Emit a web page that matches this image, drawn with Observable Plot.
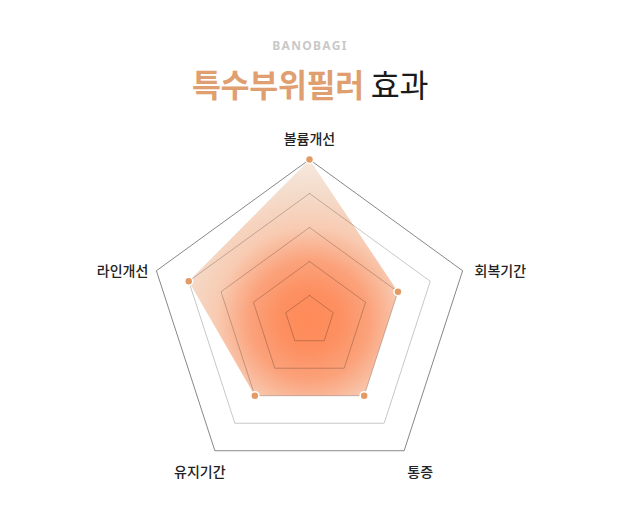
<!DOCTYPE html>
<html>
<head>
<meta charset="utf-8">
<script src="https://cdn.jsdelivr.net/npm/d3@7"></script>
<script src="https://cdn.jsdelivr.net/npm/@observablehq/plot@0.6"></script>
<style>
  html, body { margin: 0; padding: 0; background: #fff; }
  body { width: 620px; font-family: "Noto Sans CJK KR", "Noto Sans", sans-serif; }
  .brand { height: 16px; line-height: 16px; margin-top: 38px; text-align: center; font-size: 12px; font-weight: 700; letter-spacing: 1.3px; color: #c9c9c9; font-family: "Noto Sans", "Noto Sans CJK KR", sans-serif; }
  .title { height: 40px; line-height: 40px; margin-top: 9px; text-align: center; font-size: 31.5px; color: #1a1a1a; font-weight: 400; letter-spacing: -0.3px; }
  .title .hl { color: #df9f70; font-weight: 700; }
  #chart { margin-top: 17px; height: 380px; }
</style>
</head>
<body>
<div class="brand">BANOBAGI</div>
<div class="title"><span class="hl">특수부위필러</span> 효과</div>
<div id="chart"></div>
<script>
// ---- data ----
const axes = ["볼륨개선", "회복기간", "통증", "유지기간", "라인개선"];
const values = [5, 3, 3, 3, 4];
const levels = [1, 2, 3, 4, 5];
const maxLevel = 5;
const centerValue = 0.265; // value at the centre of the radial scale

// ---- geometry (in value units) ----
const n = axes.length;
const angle = i => (i * 2 * Math.PI) / n;
const polar = (v, i) => ({ x: (v - centerValue) * Math.sin(angle(i)), y: (v - centerValue) * Math.cos(angle(i)) });

const gridPts = [];
for (const L of levels) {
  for (let k = 0; k <= n; k++) {
    const p = polar(L, k % n);
    gridPts.push({ level: L, ...p });
  }
}
const dataPts = values.map((v, i) => ({ name: axes[i], value: v, ...polar(v, i) }));
const dataRing = [...dataPts, dataPts[0]];
const labelPts = axes.map((name, i) => ({ name, i, ...polar(maxLevel, i) }));

const pxPerUnit = 34;
const W = 620, H = 380;

const chart = Plot.plot({
  width: W,
  height: H,
  marginLeft: 0, marginRight: 2, marginTop: 0, marginBottom: 0,
  x: { domain: [-309 / pxPerUnit, 309 / pxPerUnit], axis: null },
  y: { domain: [-180 / pxPerUnit, 200 / pxPerUnit], axis: null },
  style: { fontFamily: "'Noto Sans CJK KR', 'Noto Sans', sans-serif", background: "transparent", overflow: "visible" },
  marks: [
    Plot.line(dataRing, { x: "x", y: "y", fill: "url(#radarGrad)", stroke: "none", curve: "linear" }),
    Plot.line(gridPts.filter(d => d.level < maxLevel), { x: "x", y: "y", z: "level", stroke: "#000", strokeOpacity: 0.22, strokeWidth: 1, curve: "linear" }),
    Plot.line(gridPts.filter(d => d.level === maxLevel), { x: "x", y: "y", z: "level", stroke: "#000", strokeOpacity: 0.47, strokeWidth: 1, curve: "linear" }),
    Plot.dot(dataPts, { x: "x", y: "y", r: 4, fill: "#e39b66", stroke: "#fff", strokeWidth: 1.5 }),
    Plot.text(labelPts.filter(d => d.i === 0), { x: "x", y: "y", text: "name", dy: -19.5, textAnchor: "middle", fontSize: 14, fontWeight: 500, fill: "#222" }),
    Plot.text(labelPts.filter(d => d.i === 1), { x: "x", y: "y", text: "name", dx: 12, dy: 0.5, textAnchor: "start", fontSize: 14, fontWeight: 500, fill: "#222" }),
    Plot.text(labelPts.filter(d => d.i === 4), { x: "x", y: "y", text: "name", dx: -8, dy: 0.5, textAnchor: "end", fontSize: 14, fontWeight: 500, fill: "#222" }),
    Plot.text(labelPts.filter(d => d.i === 2), { x: "x", y: "y", text: "name", dx: 16, dy: 22, textAnchor: "middle", fontSize: 14, fontWeight: 500, fill: "#222" }),
    Plot.text(labelPts.filter(d => d.i === 3), { x: "x", y: "y", text: "name", dx: -15, dy: 22, textAnchor: "middle", fontSize: 14, fontWeight: 500, fill: "#222" })
  ]
});

// radial gradient centred on the chart centre
const sx = chart.scale("x"), sy = chart.scale("y");
const cx = sx.apply(0), cy = sy.apply(0);
const rMax = sx.apply(maxLevel - centerValue) - cx;
const defs = d3.select(chart).insert("defs", ":first-child");
const grad = defs.append("radialGradient")
  .attr("id", "radarGrad")
  .attr("gradientUnits", "userSpaceOnUse")
  .attr("cx", cx).attr("cy", cy).attr("r", rMax);
[[0, "#ff8a58"], [0.18, "#fd8f60"], [0.37, "#fba27b"], [0.58, "#f8cbb2"], [0.8, "#f4dccb"], [1, "#f7e9df"]]
  .forEach(([o, c]) => grad.append("stop").attr("offset", o).attr("stop-color", c));

document.getElementById("chart").appendChild(chart);
</script>
</body>
</html>
